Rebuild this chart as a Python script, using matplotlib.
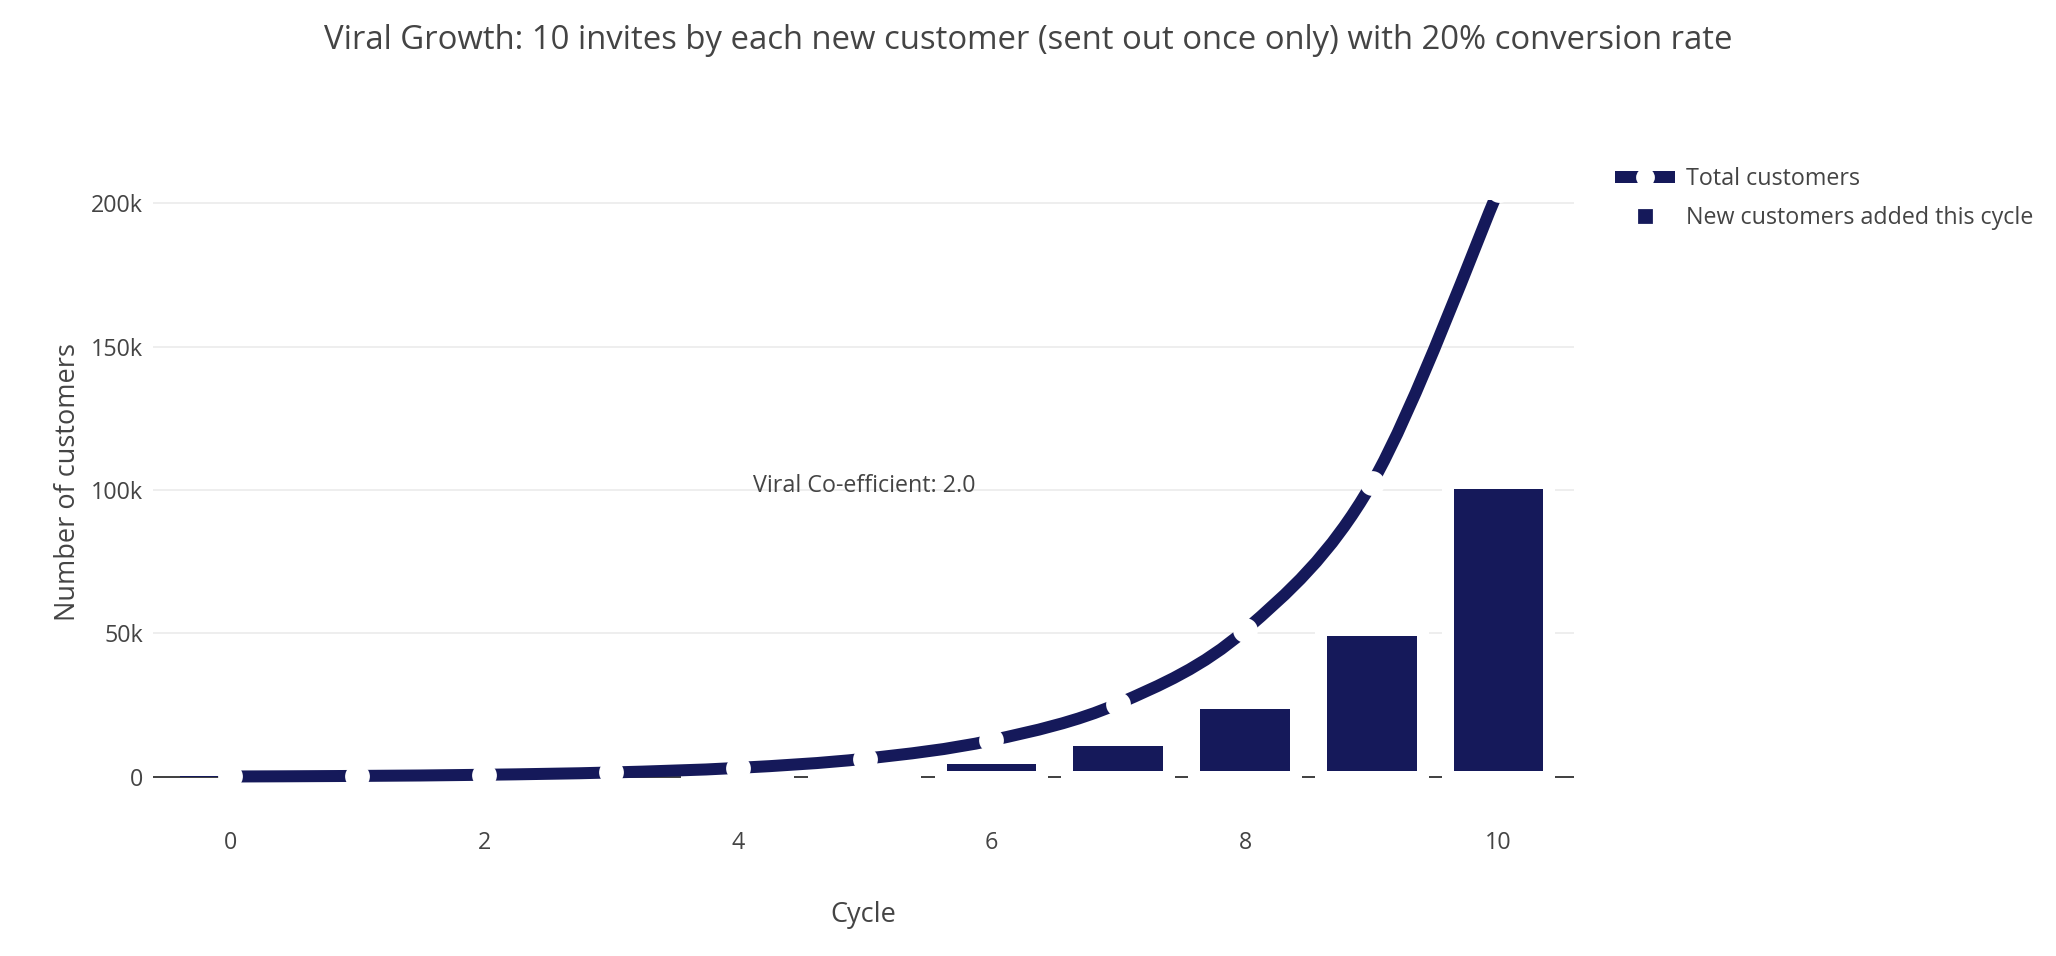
import matplotlib
matplotlib.use('Agg')
import matplotlib.pyplot as plt
import numpy as np
from matplotlib.path import Path
from matplotlib.patches import PathPatch
from matplotlib.lines import Line2D
from matplotlib.ticker import FuncFormatter

plt.rcParams['font.family'] = ['Open Sans', 'DejaVu Sans']

title = 'Viral Growth: 10 invites by each new customer (sent out once only) with 20% conversion rate'
cycles = [0, 1, 2, 3, 4, 5, 6, 7, 8, 9, 10]
total_customers = [100, 300, 700, 1500, 3100, 6300, 12700, 25500, 51100, 102300, 204700]
new_customers = [100, 200, 400, 800, 1600, 3200, 6400, 12800, 25600, 51200, 102400]
series_names = ['Total customers', 'New customers added this cycle']
note = 'Viral Co-efficient: 2.0'
x_ticks = [0, 2, 4, 6, 8, 10]
y_ticks = [0, 50000, 100000, 150000, 200000]

NAVY = '#15195a'
TXT = '#444444'
W, H, DPI = 2056, 956, 200
FS_SMALL = 8.4
FS_AXIS = 9.75
FS_TITLE = 11.85


def px(p):
    # pixels at 200 dpi -> points
    return p * 72.0 / DPI


def spline_path(xs, ys):
    # smooth curve through the points (catmull-rom as cubic bezier)
    pts = np.column_stack([xs, ys]).astype(float)
    ext = np.vstack([pts[0], pts, pts[-1]])
    verts = [pts[0]]
    codes = [Path.MOVETO]
    for i in range(len(pts) - 1):
        p0, p1, p2, p3 = ext[i], ext[i + 1], ext[i + 2], ext[i + 3]
        verts += [p1 + (p2 - p0) / 6.0, p2 - (p3 - p1) / 6.0, p2]
        codes += [Path.CURVE4] * 3
    return Path(verts, codes)


fig = plt.figure(figsize=(W / DPI, H / DPI), dpi=DPI)
left, right, top, bottom = 153, 1573.5, 200, 796
ax = fig.add_axes([left / W, 1 - bottom / H, (right - left) / W, (bottom - top) / H])

ax.set_xlim(-0.61, 10.59)
ax.set_ylim(-6700, 201100)

for s in ax.spines.values():
    s.set_visible(False)
ax.set_yticks(y_ticks)
ax.set_xticks(x_ticks)
ax.yaxis.set_major_formatter(FuncFormatter(lambda v, p: '0' if v == 0 else f'{int(v / 1000)}k'))
ax.tick_params(length=0, labelsize=FS_SMALL, labelcolor=TXT)
ax.tick_params(axis='y', pad=px(10))
ax.tick_params(axis='x', pad=px(35))
ax.grid(axis='y', color='#eeeeee', lw=px(2), zorder=0)
ax.set_axisbelow(True)
ax.axhline(0, color=TXT, lw=px(2), zorder=1)

# bars (tiny ones drawn without the white outline)
edge_w = [0 if v < 1000 else px(12) for v in new_customers]
ax.bar(cycles, new_customers, width=0.8, color=NAVY, edgecolor='white',
       linewidth=edge_w, zorder=1.5)

# spline line + white markers
patch = PathPatch(spline_path(cycles, total_customers), facecolor='none', edgecolor=NAVY,
                  lw=px(12), capstyle='butt', transform=ax.transData, zorder=2)
ax.add_patch(patch)
ax.plot(cycles, total_customers, 'o', color='white', mec='white', ms=px(22), zorder=2.1)

ax.text(5, 99400, note, ha='center', va='baseline', fontsize=FS_SMALL, color=TXT, zorder=3)

fig.text(1028 / W, 1 - 49.3 / H, title, ha='center', va='baseline', fontsize=FS_TITLE, color=TXT)
fig.text((left + right) / 2 / W, 1 - 921.7 / H, 'Cycle', ha='center', va='baseline',
         fontsize=FS_AXIS, color=TXT)
fig.text(68 / W, 1 - 482 / H, 'Number of customers', ha='center', va='center',
         rotation=90, fontsize=FS_AXIS, color=TXT)

handles = [
    Line2D([], [], color=NAVY, lw=px(12), solid_capstyle='butt', marker='o', ms=px(16),
           mfc='white', mec='white'),
    Line2D([], [], color=NAVY, lw=0, marker='s', ms=px(12)),
]
fig.legend(handles, series_names, loc='upper left', bbox_to_anchor=(1615 / W, 1 - 167 / H),
           frameon=False, fontsize=FS_SMALL, labelcolor=TXT, handlelength=2.55,
           handletextpad=0.5, labelspacing=0.64, borderpad=0, borderaxespad=0)

fig.savefig('out.png', dpi=DPI)
